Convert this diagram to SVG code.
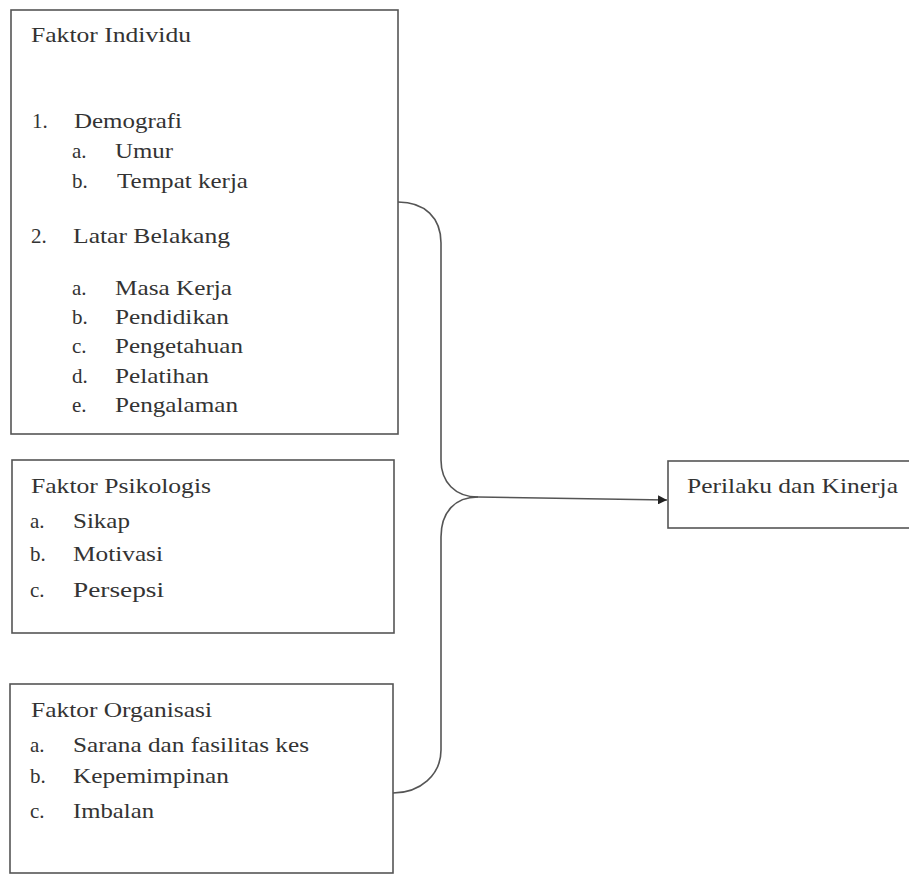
<svg xmlns="http://www.w3.org/2000/svg" width="909" height="877" viewBox="0 0 909 877" font-family="Liberation Serif, serif">
<defs>
<style>
.box{fill:#fff;stroke:#555;stroke-width:1.6}
.t{font-size:21px;fill:#333}
.c{fill:none;stroke:#555;stroke-width:1.6}
</style>
<marker id="arr" viewBox="0 0 10 10" refX="10" refY="5" markerWidth="9" markerHeight="9" markerUnits="userSpaceOnUse" orient="auto">
<path d="M0,0 L10,5 L0,10 z" fill="#222"/>
</marker>
</defs>
<rect width="909" height="877" fill="#fff"/>
<g id="individu" font-family="Liberation Serif">
<rect class="box" x="11" y="10" width="387" height="424"/>
<text class="t" x="31" y="42" textLength="160" lengthAdjust="spacingAndGlyphs">Faktor Individu</text>
<text class="t" x="32" y="128">1.</text>
<text class="t" x="74" y="128" textLength="108" lengthAdjust="spacingAndGlyphs">Demografi</text>
<text class="t" x="72" y="158">a.</text>
<text class="t" x="115" y="158" textLength="58" lengthAdjust="spacingAndGlyphs">Umur</text>
<text class="t" x="72" y="188">b.</text>
<text class="t" x="117" y="188" textLength="131" lengthAdjust="spacingAndGlyphs">Tempat kerja</text>
<text class="t" x="31" y="243">2.</text>
<text class="t" x="73" y="243" textLength="157" lengthAdjust="spacingAndGlyphs">Latar Belakang</text>
<text class="t" x="72" y="295">a.</text>
<text class="t" x="115" y="295" textLength="117" lengthAdjust="spacingAndGlyphs">Masa Kerja</text>
<text class="t" x="72" y="324">b.</text>
<text class="t" x="115" y="324" textLength="114" lengthAdjust="spacingAndGlyphs">Pendidikan</text>
<text class="t" x="72" y="353">c.</text>
<text class="t" x="115" y="353" textLength="128" lengthAdjust="spacingAndGlyphs">Pengetahuan</text>
<text class="t" x="72" y="383">d.</text>
<text class="t" x="115" y="383" textLength="94" lengthAdjust="spacingAndGlyphs">Pelatihan</text>
<text class="t" x="72" y="412">e.</text>
<text class="t" x="115" y="412" textLength="123" lengthAdjust="spacingAndGlyphs">Pengalaman</text>
</g>
<g id="psikologis" font-family="Liberation Serif">
<rect class="box" x="12" y="460" width="382" height="173"/>
<text class="t" x="31" y="493" textLength="180" lengthAdjust="spacingAndGlyphs">Faktor Psikologis</text>
<text class="t" x="30" y="528">a.</text>
<text class="t" x="73" y="528" textLength="57" lengthAdjust="spacingAndGlyphs">Sikap</text>
<text class="t" x="30" y="561">b.</text>
<text class="t" x="73" y="561" textLength="90" lengthAdjust="spacingAndGlyphs">Motivasi</text>
<text class="t" x="30" y="597">c.</text>
<text class="t" x="73" y="597" textLength="91" lengthAdjust="spacingAndGlyphs">Persepsi</text>
</g>
<g id="organisasi" font-family="Liberation Serif">
<rect class="box" x="10" y="684" width="383" height="189"/>
<text class="t" x="31" y="717" textLength="181" lengthAdjust="spacingAndGlyphs">Faktor Organisasi</text>
<text class="t" x="30" y="752">a.</text>
<text class="t" x="73" y="752" textLength="236" lengthAdjust="spacingAndGlyphs">Sarana dan fasilitas kes</text>
<text class="t" x="30" y="783">b.</text>
<text class="t" x="73" y="783" textLength="156" lengthAdjust="spacingAndGlyphs">Kepemimpinan</text>
<text class="t" x="30" y="818">c.</text>
<text class="t" x="73" y="818" textLength="81" lengthAdjust="spacingAndGlyphs">Imbalan</text>
</g>
<g id="perilaku" font-family="Liberation Serif">
<rect class="box" x="668" y="461" width="250" height="67"/>
<text class="t" x="687" y="493" textLength="211" lengthAdjust="spacingAndGlyphs">Perilaku dan Kinerja</text>
</g>
<g id="connectors">
<path class="c" d="M398,202 C425,202 441,218 441,243 L441,460 C441,482 455,497 478,497"/>
<path class="c" d="M478,497 C455,497 441,512 441,537 L441,750 C441,775 420,793 393,793"/>
<path class="c" d="M478,497 L667,500" marker-end="url(#arr)"/>
</g>
</svg>
